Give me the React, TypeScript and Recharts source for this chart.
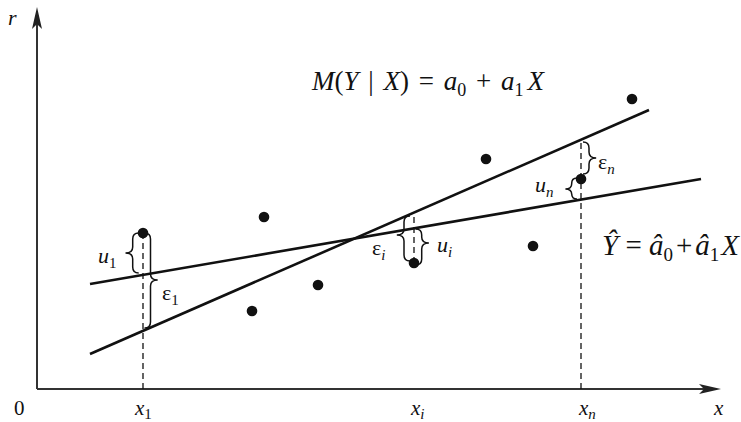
import React from 'react';
import { ComposedChart, XAxis, YAxis, Line, Scatter, ReferenceLine, ReferenceDot } from 'recharts';

const W = 741;
const H = 422;
const FONT = 'Liberation Serif, Times New Roman, serif';
const INK = '#111';
const TXT: React.CSSProperties = { whiteSpace: 'pre', fontFamily: FONT };

// observations (x, y)
const obsX = [106, 227, 215, 281, 377, 449, 496, 544, 595];
const obsY = [156, 172, 78, 104, 126, 230, 143, 210, 290];

// true regression line M(Y|X) = a0 + a1 X (end points)
const trueLineX = [53, 612];
const trueLineY = [35, 279];

// fitted line Ŷ = â0 + â1 X (end points)
const fitLineX = [53, 664];
const fitLineY = [105, 210];

// dashed verticals at x1, xi, xn
const markX = [106, 377, 544];
const markFrom = [0, 126, 0];
const markTo = [156, 176, 249];

// axis extents
const xAxisEnd = 684;
const yAxisEnd = 382;

// bottom tick labels
const tickValues = [0, 106, 377, 544, 684];
const tickMain = ['0', 'x', 'x', 'x', 'x'];
const tickSub = ['', '1', 'i', 'n', ''];
const tickShift = [-23, -8, -3, -2, -7];

// braces (u1, ε1, εi, ui, εn, un)
const braceX = [95.7, 113.5, 367, 384.7, 552, 534.7];
const braceTop = [156, 156, 173, 160, 247, 211];
const braceBottom = [116, 61, 128, 124, 215, 190];
const braceTip = [136, 109, 154, 146, 231, 200];
const braceDir = [-1, 1, -1, 1, 1, -1];

// annotation labels
const labelMain = ['u', 'ε', 'ε', 'u', 'ε', 'u', 'r'];
const labelSub = ['1', '1', 'i', 'i', 'n', 'n', ''];
const labelX = [61, 125, 335, 400, 561, 498, -29];
const labelY = [126, 89, 134, 137, 220, 197, 364];

// formulas anchor
const formulaTrueX = 275;
const formulaTrueY = 299;
const formulaFitX = 565;
const formulaFitY = 134;

const obsData = obsX.map((x, i) => ({ x, y: obsY[i] }));
const trueLine = trueLineX.map((x, i) => ({ x, y: trueLineY[i] }));
const fitLine = fitLineX.map((x, i) => ({ x, y: fitLineY[i] }));

const arrowShape = (props: any) => {
  const { x1, y1, x2, y2 } = props;
  const dx = x2 - x1;
  const dy = y2 - y1;
  const len = Math.hypot(dx, dy) || 1;
  const ux = dx / len;
  const uy = dy / len;
  const px = -uy;
  const py = ux;
  const L = 22;
  const hw = 5;
  const notch = 5;
  const bx = x2 - ux * L;
  const by = y2 - uy * L;
  const nx = x2 - ux * (L - notch);
  const ny = y2 - uy * (L - notch);
  const pts = `${x2},${y2} ${bx + px * hw},${by + py * hw} ${nx},${ny} ${bx - px * hw},${by - py * hw}`;
  return (
    <g>
      <line x1={x1} y1={y1} x2={nx} y2={ny} stroke="#333" strokeWidth={2} />
      <polygon points={pts} fill="#222" />
    </g>
  );
};

const makeBrace = (i: number) => (props: any) => {
  const { x1, y1, y2 } = props;
  const d = braceDir[i];
  const frac = (braceTip[i] - braceTop[i]) / (braceBottom[i] - braceTop[i]);
  const yt = y1 + (y2 - y1) * frac;
  const top = Math.min(y1, y2);
  const bot = Math.max(y1, y2);
  const r = Math.min(6, (bot - top) / 4);
  const x = x1;
  const path =
    `M ${x - d * r} ${top} Q ${x} ${top} ${x} ${top + r} ` +
    `L ${x} ${yt - r} Q ${x} ${yt} ${x + d * r * 1.2} ${yt} ` +
    `Q ${x} ${yt} ${x} ${yt + r} L ${x} ${bot - r} Q ${x} ${bot} ${x - d * r} ${bot}`;
  return <path d={path} fill="none" stroke={INK} strokeWidth={1.5} />;
};

const makeLabel = (i: number) => (props: any) => {
  const { cx, cy } = props;
  const main = labelMain[i];
  const sub = labelSub[i];
  const mainItalic = main !== 'ε';
  return (
    <text x={cx} y={cy} fontFamily={FONT} fontSize={22} fill={INK} style={TXT}>
      <tspan fontStyle={mainItalic ? 'italic' : 'normal'}>{main}</tspan>
      {sub ? (
        <tspan fontSize={15} dy={5} fontStyle={sub === '1' ? 'normal' : 'italic'}>
          {sub}
        </tspan>
      ) : null}
    </text>
  );
};

const trueFormula = (props: any) => {
  const { cx, cy } = props;
  return (
    <text x={cx} y={cy} fontFamily={FONT} fontSize={27} fill={INK} style={TXT}>
      <tspan fontStyle="italic">M</tspan>
      <tspan>{'('}</tspan>
      <tspan fontStyle="italic">Y</tspan>
      <tspan dx={3}>{' | '}</tspan>
      <tspan fontStyle="italic" dx={3}>X</tspan>
      <tspan>{')'}</tspan>
      <tspan dx={3}>{' = '}</tspan>
      <tspan fontStyle="italic" dx={3}>a</tspan>
      <tspan fontSize={18} dy={6}>0</tspan>
      <tspan dy={-6} dx={3}>{' + '}</tspan>
      <tspan fontStyle="italic" dx={3}>a</tspan>
      <tspan fontSize={18} dy={6}>1</tspan>
      <tspan fontStyle="italic" dy={-6} dx={4}>X</tspan>
    </text>
  );
};

const fitFormula = (props: any) => {
  const { cx, cy } = props;
  return (
    <text x={cx} y={cy} fontFamily={FONT} fontSize={29} fill={INK} style={TXT}>
      <tspan fontStyle="italic">{'Ŷ'}</tspan>
      <tspan>{' = '}</tspan>
      <tspan fontStyle="italic">{'â'}</tspan>
      <tspan fontSize={19} dy={6}>0</tspan>
      <tspan dy={-6} dx={3}>{'+'}</tspan>
      <tspan fontStyle="italic" dx={3}>{'â'}</tspan>
      <tspan fontSize={19} dy={6}>1</tspan>
      <tspan fontStyle="italic" dy={-6} dx={2}>X</tspan>
    </text>
  );
};

const renderTick = (props: any) => {
  const { x, y, payload } = props;
  const i = tickValues.indexOf(payload.value);
  if (i < 0) return <g />;
  const sub = tickSub[i];
  return (
    <text x={x + tickShift[i]} y={y + 26} fontFamily={FONT} fontSize={21} fill={INK} style={TXT}>
      <tspan fontStyle={i === 0 ? 'normal' : 'italic'}>{tickMain[i]}</tspan>
      {sub ? (
        <tspan fontSize={15} dy={4} fontStyle={sub === '1' ? 'normal' : 'italic'}>
          {sub}
        </tspan>
      ) : null}
    </text>
  );
};

const dotShape = (props: any) => <circle cx={props.cx} cy={props.cy} r={5.3} fill={INK} />;

export default function App() {
  return (
    <div style={{ position: 'absolute', left: 0, top: 0, width: W, height: H, background: '#fff' }}>
      <ComposedChart width={W} height={H} margin={{ top: 0, right: 0, bottom: 0, left: 0 }}>
        <XAxis
          type="number"
          dataKey="x"
          domain={[-37, 704]}
          allowDataOverflow
          ticks={tickValues}
          interval={0}
          tick={renderTick}
          axisLine={false}
          tickLine={false}
          tickSize={0}
          tickMargin={0}
          height={33}
        />
        <YAxis type="number" dataKey="y" domain={[0, 389]} allowDataOverflow hide />

        <ReferenceLine segment={[{ x: 0, y: 0 }, { x: xAxisEnd, y: 0 }]} shape={arrowShape} />
        <ReferenceLine segment={[{ x: 0, y: 0 }, { x: 0, y: yAxisEnd }]} shape={arrowShape} />

        {markX.map((x, i) => (
          <ReferenceLine
            key={`m${i}`}
            segment={[{ x, y: markFrom[i] }, { x, y: markTo[i] }]}
            stroke={INK}
            strokeWidth={1.3}
            strokeDasharray="6 4"
          />
        ))}

        <Line data={trueLine} dataKey="y" type="linear" stroke={INK} strokeWidth={2.6} dot={false} activeDot={false} isAnimationActive={false} />
        <Line data={fitLine} dataKey="y" type="linear" stroke={INK} strokeWidth={2.6} dot={false} activeDot={false} isAnimationActive={false} />

        {braceX.map((x, i) => (
          <ReferenceLine
            key={`b${i}`}
            segment={[{ x, y: braceTop[i] }, { x, y: braceBottom[i] }]}
            shape={makeBrace(i)}
          />
        ))}

        <Scatter data={obsData} dataKey="y" shape={dotShape} isAnimationActive={false} />

        {labelX.map((x, i) => (
          <ReferenceDot key={`l${i}`} x={x} y={labelY[i]} r={1} shape={makeLabel(i)} />
        ))}
        <ReferenceDot x={formulaTrueX} y={formulaTrueY} r={1} shape={trueFormula} />
        <ReferenceDot x={formulaFitX} y={formulaFitY} r={1} shape={fitFormula} />
      </ComposedChart>
    </div>
  );
}
